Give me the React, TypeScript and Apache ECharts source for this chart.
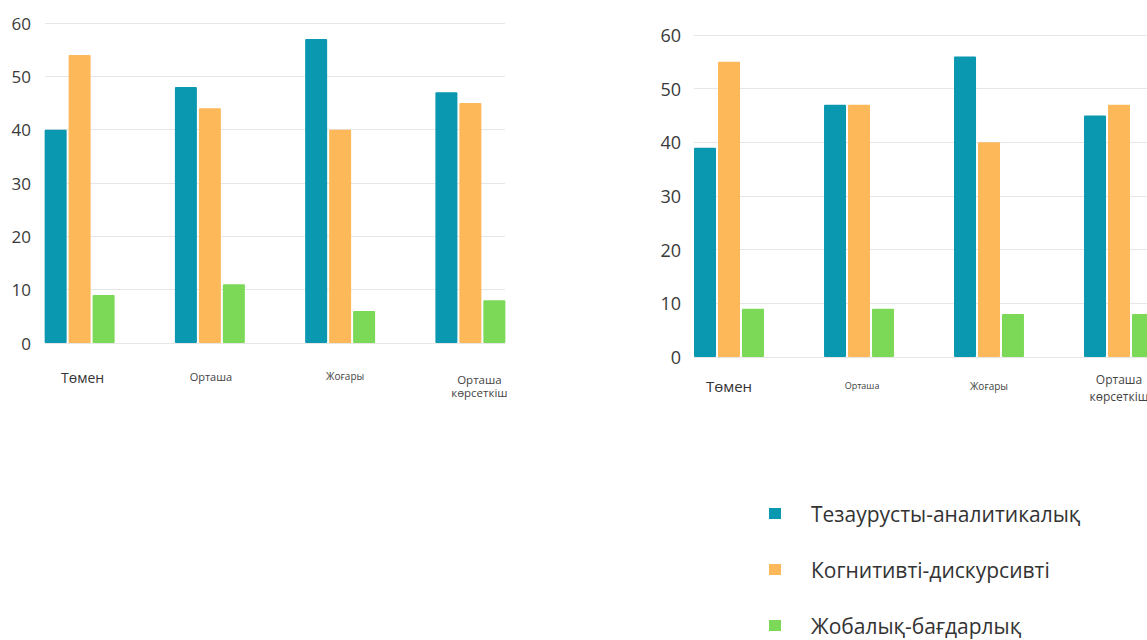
import React, { useEffect, useRef } from "react";
import * as echarts from "echarts";

const seriesNames = ["Тезаурусты-аналитикалық", "Когнитивті-дискурсивті", "Жобалық-бағдарлық"];
const colors = ["#0A97B0", "#FDB85A", "#7CD957"];

const leftCategories = ["Төмен", "Орташа", "Жоғары", "Орташа\nкөрсеткіш"];
const rightCategories = ["Төмен", "Орташа", "Жоғары", "Орташа\nкөрсеткіш"];

const leftTeal = [40, 48, 57, 47];
const leftOrange = [54, 44, 40, 45];
const leftGreen = [9, 11, 6, 8];

const rightTeal = [39, 47, 56, 45];
const rightOrange = [55, 47, 40, 47];
const rightGreen = [9, 9, 8, 8];

const yMin = 0;
const yMax = 60;
const yStep = 10;

const FONT = "'Open Sans', 'Noto Sans', sans-serif";

export default function App() {
  const ref = useRef<HTMLDivElement>(null);

  useEffect(() => {
    if (!ref.current) return;
    const chart = echarts.init(ref.current, undefined, { renderer: "svg" });

    const leftStyles = [
      { fontSize: 14, lineHeight: 16, color: "#333", padding: [0, 0, 0, 6] },
      { fontSize: 11, lineHeight: 14, color: "#444", padding: [0, 0, 0, 2] },
      { fontSize: 10, lineHeight: 14, color: "#444", padding: [0, 0, 0, 10] },
      { fontSize: 11.5, lineHeight: 13, color: "#444", padding: [4, 0, 0, 18] },
    ];
    const rightStyles = [
      { fontSize: 15, lineHeight: 16, color: "#333", padding: [7, 0, 0, 0] },
      { fontSize: 9, lineHeight: 14, color: "#444", padding: [7, 0, 0, 6] },
      { fontSize: 10, lineHeight: 14, color: "#444", padding: [8, 0, 0, 0] },
      { fontSize: 12, lineHeight: 17, color: "#444" },
    ];

    const valueAxis = (gridIndex: number, showLabels: boolean, fontSize: number, margin: number) => ({
      type: "value",
      gridIndex,
      min: yMin,
      max: yMax,
      interval: yStep,
      axisLine: { show: false },
      axisTick: { show: false },
      axisLabel: {
        show: showLabels,
        fontSize,
        color: "#3a3a3a",
        fontFamily: FONT,
        margin,
      },
      splitLine: { show: showLabels, lineStyle: { color: "#E6E6E6", width: 1 } },
    });

    const barSeries = (name: string, data: number[], color: string, axisIndex: number) => ({
      name,
      type: "bar",
      xAxisIndex: axisIndex,
      yAxisIndex: axisIndex,
      data,
      barWidth: 22,
      barGap: "9%",
      itemStyle: { color, borderRadius: 1 },
    });

    chart.setOption({
      animation: false,
      backgroundColor: "#ffffff",
      textStyle: { fontFamily: FONT },
      legend: {
        orient: "vertical",
        left: 769,
        top: 503,
        height: 200,
        padding: 0,
        icon: "rect",
        itemWidth: 12,
        itemHeight: 11,
        itemGap: 35,
        data: seriesNames,
        textStyle: {
          fontSize: 21,
          lineHeight: 20,
          color: "#333",
          fontFamily: FONT,
          padding: [0, 0, 0, 25],
        },
        selectedMode: false,
      },
      grid: [
        { left: 45, top: 23, width: 460, height: 320, outerBoundsMode: "none" },
        { left: 14.5, top: 23, width: 521, height: 320, outerBoundsMode: "none" },
        { left: 694, top: 35, width: 520, height: 322, outerBoundsMode: "none" },
        { left: 664, top: 35, width: 520, height: 322, outerBoundsMode: "none" },
      ],
      xAxis: [
        { type: "value", gridIndex: 0, show: false, min: 0, max: 1 },
        {
          type: "category",
          gridIndex: 1,
          data: leftCategories.map((c, i) => ({ value: c, textStyle: leftStyles[i] })),
          axisLine: { show: false },
          axisTick: { show: false },
          axisLabel: { margin: 26, interval: 0, fontFamily: FONT, verticalAlign: "top" },
        },
        { type: "value", gridIndex: 2, show: false, min: 0, max: 1 },
        {
          type: "category",
          gridIndex: 3,
          data: rightCategories.map((c, i) => ({ value: c, textStyle: rightStyles[i] })),
          axisLine: { show: false },
          axisTick: { show: false },
          axisLabel: { margin: 14, interval: 0, fontFamily: FONT, verticalAlign: "top" },
        },
      ],
      yAxis: [
        valueAxis(0, true, 17, 14),
        valueAxis(1, false, 17, 14),
        valueAxis(2, true, 18, 13),
        valueAxis(3, false, 18, 13),
      ],
      series: [
        barSeries(seriesNames[0], leftTeal, colors[0], 1),
        barSeries(seriesNames[1], leftOrange, colors[1], 1),
        barSeries(seriesNames[2], leftGreen, colors[2], 1),
        barSeries(seriesNames[0], rightTeal, colors[0], 3),
        barSeries(seriesNames[1], rightOrange, colors[1], 3),
        barSeries(seriesNames[2], rightGreen, colors[2], 3),
      ],
    });

    return () => chart.dispose();
  }, []);

  return (
    <div style={{ position: "absolute", left: 0, top: 0, width: 1147, height: 640, overflow: "hidden" }}>
      <div ref={ref} style={{ width: 1260, height: 640 }} />
    </div>
  );
}
